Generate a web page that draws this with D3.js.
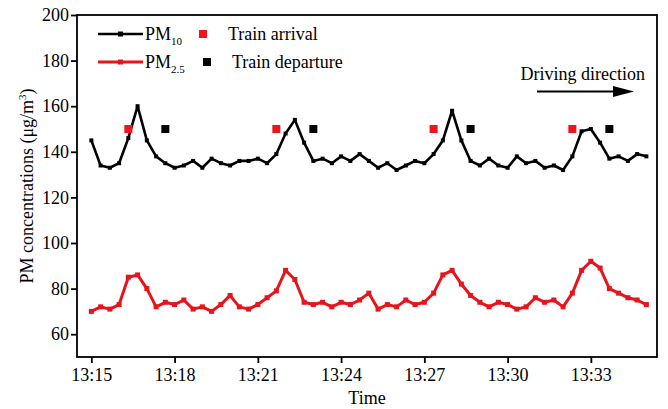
<!DOCTYPE html>
<html>
<head>
<meta charset="utf-8">
<script src="https://cdn.jsdelivr.net/npm/d3@7"></script>
<style>
  body { margin: 0; background: #fff; }
  text { font-family: "Liberation Serif", "Times New Roman", serif; }
</style>
</head>
<body>
<div id="chart"></div>
<script>
// sampling: one reading every 20 s from 13:15:00
const startTime = "13:15:00"
const stepSeconds = 20

const pm10 = [145,134,133,135,146,160,145,138,135,133,134,136,133,137,135,134,136,136,137,135,139,
              148,154,144,136,137,135,138,136,139,136,133,135,132,134,136,135,139,145,158,145,
              136,134,137,134,133,138,135,136,133,134,132,138,149,150,144,137,138,136,139,138]

const pm25 = [70,72,71,73,85,86,80,72,74,73,75,71,72,70,73,77,72,71,73,76,79,
              88,84,74,73,74,72,74,73,75,78,71,73,72,75,73,74,78,86,88,82,
              77,74,72,74,73,71,72,76,74,75,72,78,88,92,89,80,78,76,75,73]

const arrivals = ["13:16:20", "13:21:40", "13:27:20", "13:32:20"]
const departures = ["13:17:40", "13:23:00", "13:28:40", "13:33:40"]
const trainLevel = 150

const xTicks = ["13:15", "13:18", "13:21", "13:24", "13:27", "13:30", "13:33"]
const yTicks = [60, 80, 100, 120, 140, 160, 180, 200]

const W = 668, H = 409
const pLeft = 77, pRight = 657, pTop = 15, pBottom = 357

const parse = d3.timeParse("%H:%M:%S")
const parseHM = d3.timeParse("%H:%M")
const t0 = parse(startTime)
const times = pm10.map((_, i) => d3.timeSecond.offset(t0, i * stepSeconds))

const svg = d3.select("#chart").append("svg")
  .attr("width", W)
  .attr("height", H)

const x = d3.scaleTime([parse("13:14:29"), parse("13:35:23")], [pLeft, pRight])
const y = d3.scaleLinear([50, 200], [pBottom, pTop])

// frame
svg.append("rect")
  .attr("x", pLeft).attr("y", pTop)
  .attr("width", pRight - pLeft).attr("height", pBottom - pTop)
  .attr("fill", "none").attr("stroke", "#000").attr("stroke-width", 1.8)

// x axis
let xAxis = svg.append("g")
  .attr("transform", `translate(0, ${pBottom})`)
  .call(d3.axisBottom(x)
    .tickValues(xTicks.map(parseHM))
    .tickFormat(d3.timeFormat("%H:%M"))
    .tickSize(6).tickPadding(5))
xAxis.select(".domain").remove()
xAxis.selectAll("line").attr("stroke-width", 1.8)
xAxis.selectAll("text").attr("font-size", 18).attr("fill", "#000")
  .attr("font-family", "Liberation Serif")

// y axis
let yAxis = svg.append("g")
  .attr("transform", `translate(${pLeft}, 0)`)
  .call(d3.axisLeft(y).tickValues(yTicks).tickSize(6).tickPadding(2))
yAxis.select(".domain").remove()
yAxis.selectAll("line").attr("stroke-width", 1.8)
yAxis.selectAll("text").attr("font-size", 18).attr("fill", "#000")
  .attr("font-family", "Liberation Serif")

// axis titles
svg.append("text")
  .attr("x", (pLeft + pRight) / 2).attr("y", 404)
  .attr("text-anchor", "middle").attr("font-size", 18)
  .text("Time")

let yTitle = svg.append("text")
  .attr("transform", `translate(33, ${(pTop + pBottom) / 2}) rotate(-90)`)
  .attr("text-anchor", "middle").attr("font-size", 18)
yTitle.append("tspan").text("PM concentrations (μg/m")
yTitle.append("tspan").attr("font-size", 11).attr("dy", -7).text("3")
yTitle.append("tspan").attr("dy", 7).text(")")

// lines
const lineMaker = (vals) => d3.line()
  .x((d, i) => x(times[i]))
  .y(d => y(d))(vals)

const series = [
  { vals: pm25, color: "#e8141c", width: 3, marker: 5 },
  { vals: pm10, color: "#000", width: 2.6, marker: 4 }
]

for (let s of series) {
  svg.append("path")
     .attr("d", lineMaker(s.vals))
     .attr("fill", "none")
     .attr("stroke", s.color)
     .attr("stroke-width", s.width)
     .attr("stroke-linejoin", "round")

  svg.append("g").selectAll("rect")
     .data(s.vals)
     .enter()
     .append("rect")
     .attr("x", (d, i) => x(times[i]) - s.marker / 2)
     .attr("y", d => y(d) - s.marker / 2)
     .attr("width", s.marker).attr("height", s.marker)
     .attr("fill", s.color)
}

// train events
const trainSquares = [
  { list: arrivals, color: "#f0141c" },
  { list: departures, color: "#000" }
]
for (let t of trainSquares) {
  svg.append("g").selectAll("rect")
     .data(t.list)
     .enter()
     .append("rect")
     .attr("x", d => x(parse(d)) - 4)
     .attr("y", y(trainLevel) - 4)
     .attr("width", 8).attr("height", 8)
     .attr("fill", t.color)
}

// legend
const legend = svg.append("g")
const legendRows = [
  { sub: "10", color: "#000", y: 34, sq: "#f0141c", label: "Train arrival", sqX: 203, lx: 228 },
  { sub: "2.5", color: "#e8141c", y: 62, sq: "#000", label: "Train departure", sqX: 207, lx: 232 }
]
for (let r of legendRows) {
  legend.append("line")
    .attr("x1", 98).attr("x2", 143).attr("y1", r.y).attr("y2", r.y)
    .attr("stroke", r.color).attr("stroke-width", r.color === "#000" ? 2.6 : 3)
  legend.append("rect")
    .attr("x", 120.5 - 2.5).attr("y", r.y - 2.5).attr("width", 5).attr("height", 5)
    .attr("fill", r.color)
  let txt = legend.append("text")
    .attr("x", 145).attr("y", r.y + 6).attr("font-size", 18)
  txt.append("tspan").text("PM")
  txt.append("tspan").attr("font-size", 11).attr("dy", 5).text(r.sub)
  legend.append("rect")
    .attr("x", r.sqX - 4).attr("y", r.y - 4).attr("width", 8).attr("height", 8)
    .attr("fill", r.sq)
  legend.append("text")
    .attr("x", r.lx).attr("y", r.y + 6).attr("font-size", 18)
    .text(r.label)
}

// driving direction
svg.append("text")
  .attr("x", 645).attr("y", 80)
  .attr("text-anchor", "end").attr("font-size", 18)
  .text("Driving direction")
svg.append("line")
  .attr("x1", 537).attr("x2", 618).attr("y1", 91.5).attr("y2", 91.5)
  .attr("stroke", "#000").attr("stroke-width", 2)
svg.append("path")
  .attr("d", "M613,86 L634,91.5 L613,97 Z")
  .attr("fill", "#000")
</script>
</body>
</html>
